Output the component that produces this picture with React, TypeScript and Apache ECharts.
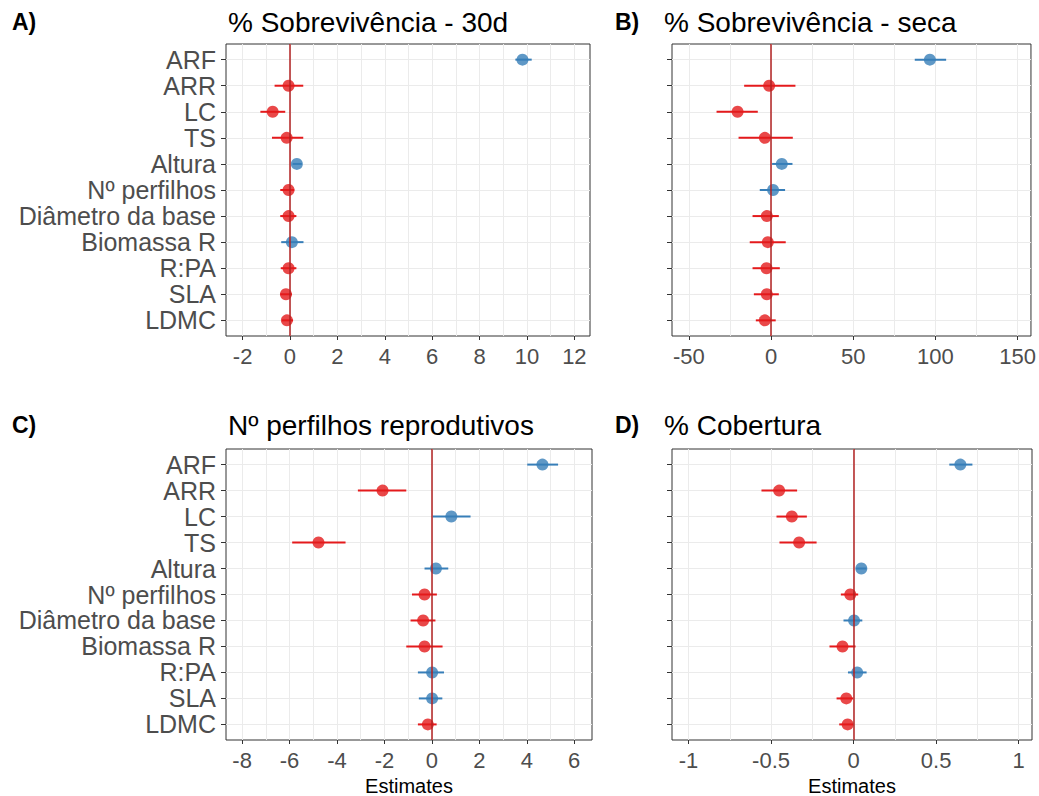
import React, { useEffect, useRef } from "react";
import * as echarts from "echarts";

const categories = ["ARF", "ARR", "LC", "TS", "Altura", "Nº perfilhos", "Diâmetro da base", "Biomassa R", "R:PA", "SLA", "LDMC"];
const rowIndex = [0, 1, 2, 3, 4, 5, 6, 7, 8, 9, 10];

// Panel A: % Sobrevivência - 30d
const estA = [9.81, -0.06, -0.73, -0.14, 0.29, -0.06, -0.06, 0.08, -0.06, -0.17, -0.13];
const lowA = [9.51, -0.65, -1.25, -0.76, 0.11, -0.41, -0.41, -0.37, -0.39, -0.41, -0.34];
const highA = [10.2, 0.56, -0.2, 0.56, 0.5, 0.18, 0.27, 0.57, 0.27, 0.08, 0.13];

// Panel B: % Sobrevivência - seca
const estB = [96.6, -1.2, -20.4, -3.8, 6.5, 1.2, -2.6, -2.0, -2.8, -2.6, -3.8];
const lowB = [87.4, -16.4, -33.2, -19.8, 0.6, -6.9, -11.3, -13.0, -11.3, -10.5, -9.3];
const highB = [106.5, 14.8, -8.1, 13.2, 13.0, 8.5, 4.7, 8.9, 5.3, 4.7, 2.8];

// Panel C: Nº perfilhos reprodutivos
const estC = [4.66, -2.08, 0.82, -4.78, 0.17, -0.31, -0.37, -0.31, 0.01, 0.01, -0.17];
const lowC = [4.02, -3.12, 0.03, -5.89, -0.31, -0.84, -0.9, -1.08, -0.59, -0.55, -0.59];
const highC = [5.32, -1.08, 1.63, -3.64, 0.69, 0.21, 0.15, 0.45, 0.51, 0.44, 0.2];

// Panel D: % Cobertura
const estD = [0.647, -0.451, -0.374, -0.33, 0.047, -0.02, 0.003, -0.067, 0.022, -0.044, -0.036];
const lowD = [0.58, -0.558, -0.467, -0.449, 0.014, -0.077, -0.061, -0.146, -0.034, -0.103, -0.087];
const highD = [0.72, -0.342, -0.283, -0.224, 0.079, 0.028, 0.053, 0.012, 0.079, -0.002, -0.002];

// Axis ticks
const gridA = [-2, -1, 0, 1, 2, 3, 4, 5, 6, 7, 8, 9, 10, 11, 12];
const ticksA = [-2, 0, 2, 4, 6, 8, 10, 12];
const gridB = [-50, -25, 0, 25, 50, 75, 100, 125, 150];
const ticksB = [-50, 0, 50, 100, 150];
const gridC = [-8, -7, -6, -5, -4, -3, -2, -1, 0, 1, 2, 3, 4, 5, 6];
const ticksC = [-8, -6, -4, -2, 0, 2, 4, 6];
const gridD = [-1, -0.75, -0.5, -0.25, 0, 0.25, 0.5, 0.75, 1];
const ticksD = [-1, -0.5, 0, 0.5, 1];

const titles = ["% Sobrevivência - 30d", "% Sobrevivência - seca", "Nº perfilhos reprodutivos", "% Cobertura"];
const tags = ["A)", "B)", "C)", "D)"];

const RED = "#E41A1C";
const BLUE = "#377EB8";
const ZERO = "#B22222";
const FONT = '"Liberation Sans", Arial, sans-serif';

export default function App() {
  const ref = useRef<HTMLDivElement>(null);

  useEffect(() => {
    if (!ref.current) return;
    const chart = echarts.init(ref.current, null, { renderer: "svg" });

    const panels = [
      { est: estA, low: lowA, high: highA, grid: gridA, ticks: ticksA, min: -2.7, max: 12.66, left: 226, top: 44, width: 364, height: 292, yLabels: true, xTitle: false },
      { est: estB, low: lowB, high: highB, grid: gridB, ticks: ticksB, min: -60.3, max: 158.1, left: 672, top: 44, width: 360, height: 292, yLabels: false, xTitle: false },
      { est: estC, low: lowC, high: highC, grid: gridC, ticks: ticksC, min: -8.68, max: 6.75, left: 226, top: 449, width: 366, height: 291, yLabels: true, xTitle: true },
      { est: estD, low: lowD, high: highD, grid: gridD, ticks: ticksD, min: -1.1, max: 1.081, left: 672, top: 449, width: 360, height: 291, yLabels: false, xTitle: true },
    ];

    const grids: any[] = [];
    const xAxes: any[] = [];
    const yAxes: any[] = [];
    const series: any[] = [];
    const graphics: any[] = [];

    panels.forEach((p, i) => {
      grids.push({
        left: p.left,
        top: p.top,
        width: p.width,
        height: p.height,
        show: true,
        borderColor: "#333333",
        borderWidth: 1,
        backgroundColor: "transparent",
        containLabel: false,
      });
      xAxes.push({
        gridIndex: i,
        type: "value",
        min: p.min,
        max: p.max,
        position: "bottom",
        axisLine: { show: false, onZero: false },
        axisTick: { show: false, customValues: p.grid },
        splitLine: { show: true, lineStyle: { color: "#EBEBEB", width: 1 } },
        axisLabel: {
          show: true,
          customValues: p.ticks,
          color: "#4D4D4D",
          fontSize: 22,
          fontFamily: FONT,
          margin: 9,
          formatter: (v: number) => String(v),
        },
      });
      xAxes.push({
        gridIndex: i,
        type: "value",
        min: p.min,
        max: p.max,
        position: "bottom",
        axisLine: { show: false, onZero: false },
        axisTick: { show: true, customValues: p.ticks, length: 4, lineStyle: { color: "#333333" } },
        splitLine: { show: false },
        axisLabel: { show: false },
      });
      yAxes.push({
        gridIndex: i,
        type: "value",
        min: -0.6,
        max: 10.6,
        inverse: true,
        position: "left",
        axisLine: { show: false, onZero: false },
        axisTick: { show: true, customValues: rowIndex, length: 5, lineStyle: { color: "#333333" } },
        splitLine: { show: true, lineStyle: { color: "#EBEBEB", width: 1 } },
        axisLabel: {
          show: p.yLabels,
          customValues: rowIndex,
          color: "#4D4D4D",
          fontSize: 25,
          lineHeight: 23,
          fontFamily: FONT,
          margin: 10,
          formatter: (v: number) => categories[Math.round(v)] ?? "",
        },
      });

      const barData = rowIndex.map((r) => [p.low[r], p.high[r], r, p.est[r]]);
      series.push({
        type: "custom",
        xAxisIndex: i * 2,
        yAxisIndex: i,
        z: 2,
        encode: { x: [0, 1], y: 2 },
        data: barData,
        renderItem: (params: any, api: any) => {
          const a = api.coord([api.value(0), api.value(2)]);
          const b = api.coord([api.value(1), api.value(2)]);
          const e = api.value(3);
          return {
            type: "line",
            shape: { x1: a[0], y1: a[1], x2: b[0], y2: b[1] },
            style: { stroke: e > 0 ? BLUE : RED, lineWidth: 2 },
          };
        },
        markLine: {
          silent: true,
          symbol: "none",
          label: { show: false },
          lineStyle: { color: ZERO, width: 1.5, type: "solid" },
          data: [{ xAxis: 0 }],
        },
      });
      series.push({
        type: "scatter",
        xAxisIndex: i * 2,
        yAxisIndex: i,
        z: 3,
        symbol: "circle",
        symbolSize: 12,
        data: rowIndex.map((r) => ({
          value: [p.est[r], r],
          itemStyle: { color: p.est[r] > 0 ? BLUE : RED },
        })),
      });

      const tagX = i % 2 === 0 ? 12 : 615;
      const titleX = i % 2 === 0 ? 228 : 664;
      const titleY = i < 2 ? 22 : 425;
      graphics.push({
        type: "text",
        x: tagX,
        y: titleY,
        style: { text: tags[i], font: `bold 23px ${FONT}`, fill: "#000000", verticalAlign: "middle", align: "left" },
      });
      graphics.push({
        type: "text",
        x: titleX,
        y: titleY,
        style: { text: titles[i], font: `28px ${FONT}`, fill: "#000000", verticalAlign: "middle", align: "left" },
      });
      if (p.xTitle) {
        graphics.push({
          type: "text",
          x: p.left + p.width / 2,
          y: 786,
          style: { text: "Estimates", font: `20px ${FONT}`, fill: "#000000", verticalAlign: "middle", align: "center" },
        });
      }
    });

    chart.setOption({
      animation: false,
      backgroundColor: "#FFFFFF",
      textStyle: { fontFamily: FONT },
      grid: grids,
      xAxis: xAxes,
      yAxis: yAxes,
      series,
      graphic: graphics,
    });

    return () => chart.dispose();
  }, []);

  return (
    <div
      ref={ref}
      style={{ position: "absolute", left: 0, top: 0, width: 1039, height: 796 }}
    />
  );
}
